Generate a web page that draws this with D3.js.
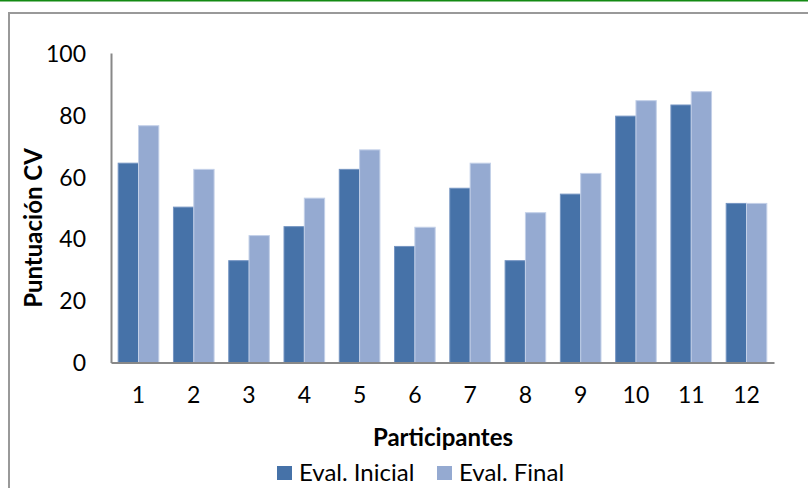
<!DOCTYPE html>
<html><head><meta charset="utf-8">
<script src="https://cdn.jsdelivr.net/npm/d3@7"></script>
<style>body{margin:0;background:#fff}svg{display:block}text{font-family:Lato,"Open Sans",sans-serif;fill:#000}</style>
</head><body><svg id="c" width="808" height="488"></svg>
<script>
const categories = ["1","2","3","4","5","6","7","8","9","10","11","12"];
const seriesNames = ["Eval. Inicial","Eval. Final"];
const evalInicial = [64.4,50.2,32.9,43.9,62.4,37.5,56.3,32.9,54.4,79.6,83.2,51.4];
const evalFinal   = [76.5,62.4,41.0,53.1,68.7,43.7,64.4,48.4,61.1,84.6,87.5,51.4];
const yTicks = [0,20,40,60,80,100];
const colors = ["#4672a8","#95aad1"];

const svg = d3.select("#c");
// frame
svg.append("line").attr("x1",0).attr("x2",808).attr("y1",0.5).attr("y2",0.5).attr("stroke","#138a13").attr("stroke-width",2);
svg.append("path").attr("d","M9,488 V13 H808").attr("fill","none").attr("stroke","#999").attr("stroke-width",2);

const x0 = d3.scaleBand().domain(categories).range([111,774]).paddingInner(0.265).paddingOuter(0.13);
const x1 = d3.scaleBand().domain(seriesNames).range([0,x0.bandwidth()]);
const y = d3.scaleLinear().domain([0,100]).range([362.5,53]);

const data = categories.map((c,i)=>({c, vals:[evalInicial[i],evalFinal[i]]}));
const g = svg.append("g");
g.selectAll("g.cat").data(data).join("g").attr("transform",d=>`translate(${x0(d.c)},0)`)
 .selectAll("rect").data(d=>d.vals.map((v,j)=>({v,j}))).join("rect")
 .attr("x",d=>x1(seriesNames[d.j])).attr("width",x1.bandwidth())
 .attr("y",d=>y(d.v)).attr("height",d=>y(0)-y(d.v))
 .attr("fill",d=>colors[d.j]).attr("stroke",d=>d.j?"#c3d0e8":"#7595c2").attr("stroke-width",1);

// y axis
const ya = svg.append("g").attr("transform","translate(111,0)").call(d3.axisLeft(y).tickValues(yTicks).tickSize(0).tickPadding(25));
ya.select(".domain").attr("stroke","#888").attr("stroke-width",2);
ya.selectAll("text").style("font-size","23px").attr("dy","0.36em").style("font-family","Lato,sans-serif");
// x axis
const xa = svg.append("g").attr("transform","translate(0,362.5)").call(d3.axisBottom(x0).tickSize(0).tickPadding(24));
xa.select(".domain").attr("stroke","#888").attr("stroke-width",2);
xa.selectAll("text").style("font-size","23px").style("font-family","Lato,sans-serif");

svg.append("text").attr("x",443).attr("y",446).attr("text-anchor","middle").style("font-size","24px").style("font-weight","bold").text("Participantes");
svg.append("text").attr("transform","translate(42,228) rotate(-90)").attr("text-anchor","middle").style("font-size","24px").style("font-weight","bold").text("Puntuación CV");

// legend
const lx = [277,437];
seriesNames.forEach((s,i)=>{
  svg.append("rect").attr("x",lx[i]).attr("y",466).attr("width",15).attr("height",14).attr("fill",colors[i]);
  svg.append("text").attr("x",lx[i]+22).attr("y",481).style("font-size","24px").text(s);
});
</script></body></html>
